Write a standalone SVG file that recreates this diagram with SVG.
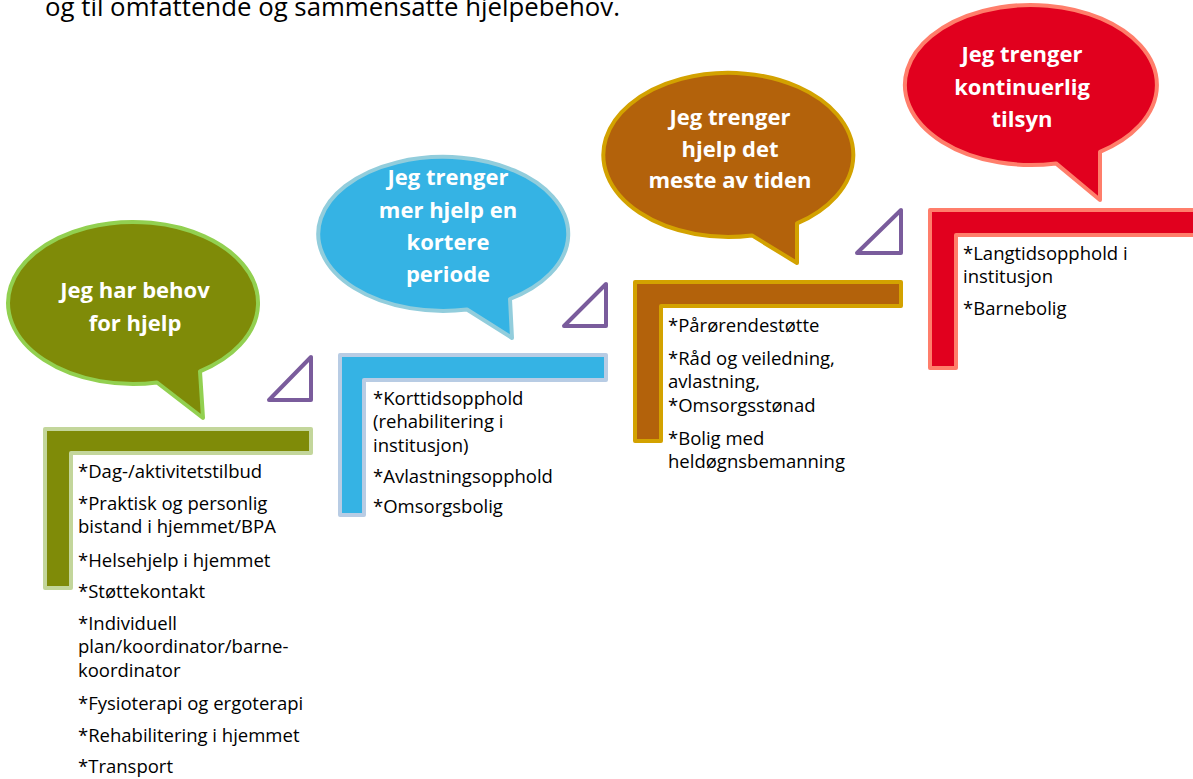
<svg xmlns="http://www.w3.org/2000/svg" width="1193" height="779" viewBox="0 0 1193 779">
<style>
.bt{font-family:"Open Sans","Liberation Sans",sans-serif;font-weight:bold;font-size:22px;fill:#fff;text-anchor:middle}
.lt{font-family:"Open Sans","Liberation Sans",sans-serif;font-size:18.5px;fill:#000}
.tri{fill:#fff;stroke:#7A5C9C;stroke-width:4;stroke-linejoin:round}
.bub{stroke-width:4;stroke-linejoin:round}
.ell{stroke-width:4;stroke-linejoin:round}
</style>
<rect width="1193" height="779" fill="#fff"/>
<text x="45" y="16" font-family="Open Sans, Liberation Sans, sans-serif" font-size="25" fill="#000" textLength="575" lengthAdjust="spacingAndGlyphs">og til omfattende og sammensatte hjelpebehov.</text>
<g id="connectors">
<path class="tri" d="M311 357 L311 400 L269 400 Z"/>
<path class="tri" d="M606 284 L606 326 L564 326 Z"/>
<path class="tri" d="M901 210 L901 253 L857 253 Z"/>
</g>
<g id="node1">
<path class="bub" fill="#7F8B08" stroke="#92D050" d="M157 382.5 A125 81 0 1 1 200 371.4 L203 418 Z"/>
<text class="bt" x="135" y="298">Jeg har behov</text>
<text class="bt" x="135" y="331">for hjelp</text>
<path class="ell" fill="#7F8B08" stroke="#C3D69B" d="M45 429 H311 V453 H71 V588 H45 Z"/>
<text class="lt" x="78" y="478">*Dag-/aktivitetstilbud</text>
<text class="lt" x="78" y="510">*Praktisk og personlig</text>
<text class="lt" x="78" y="533">bistand i hjemmet/BPA</text>
<text class="lt" x="78" y="567">*Helsehjelp i hjemmet</text>
<text class="lt" x="78" y="598">*Støttekontakt</text>
<text class="lt" x="78" y="630">*Individuell</text>
<text class="lt" x="78" y="653">plan/koordinator/barne-</text>
<text class="lt" x="78" y="677">koordinator</text>
<text class="lt" x="78" y="710">*Fysioterapi og ergoterapi</text>
<text class="lt" x="78" y="742">*Rehabilitering i hjemmet</text>
<text class="lt" x="78" y="773">*Transport</text>
</g>
<g id="node2">
<path class="bub" fill="#35B3E4" stroke="#92CDDC" d="M467 309.5 A125 77 0 1 1 510 299 L512 338 Z"/>
<text class="bt" x="448" y="185">Jeg trenger</text>
<text class="bt" x="448" y="218">mer hjelp en</text>
<text class="bt" x="448" y="250">kortere</text>
<text class="bt" x="448" y="282">periode</text>
<path class="ell" fill="#35B3E4" stroke="#B8CCE4" d="M340 355 H606 V380 H364 V515 H340 Z"/>
<text class="lt" x="373" y="405">*Korttidsopphold</text>
<text class="lt" x="373" y="428">(rehabilitering i</text>
<text class="lt" x="373" y="452">institusjon)</text>
<text class="lt" x="373" y="483">*Avlastningsopphold</text>
<text class="lt" x="373" y="513">*Omsorgsbolig</text>
</g>
<g id="node3">
<path class="bub" fill="#B3620B" stroke="#D3A200" d="M752 235.4 A125 82 0 1 1 797 223.4 L797 263 Z"/>
<text class="bt" x="730" y="125">Jeg trenger</text>
<text class="bt" x="730" y="157">hjelp det</text>
<text class="bt" x="730" y="188">meste av tiden</text>
<path class="ell" fill="#B3620B" stroke="#D3A200" d="M635 282 H901 V306 H661 V441 H635 Z"/>
<text class="lt" x="668" y="332">*Pårørendestøtte</text>
<text class="lt" x="668" y="365">*Råd og veiledning,</text>
<text class="lt" x="668" y="388">avlastning,</text>
<text class="lt" x="668" y="412">*Omsorgsstønad</text>
<text class="lt" x="668" y="445">*Bolig med</text>
<text class="lt" x="668" y="468">heldøgnsbemanning</text>
</g>
<g id="node4">
<path class="bub" fill="#E1001E" stroke="#FF7E6B" d="M1056 163.4 A126 80 0 1 1 1100 151.9 L1100 200 Z"/>
<text class="bt" x="1022" y="62">Jeg trenger</text>
<text class="bt" x="1022" y="95">kontinuerlig</text>
<text class="bt" x="1022" y="127">tilsyn</text>
<path class="ell" fill="#E1001E" stroke="#FF7E6B" d="M930 210 H1200 V235 H956 V368 H930 Z"/>
<text class="lt" x="963" y="260">*Langtidsopphold i</text>
<text class="lt" x="963" y="283">institusjon</text>
<text class="lt" x="963" y="315">*Barnebolig</text>
</g>
</svg>
